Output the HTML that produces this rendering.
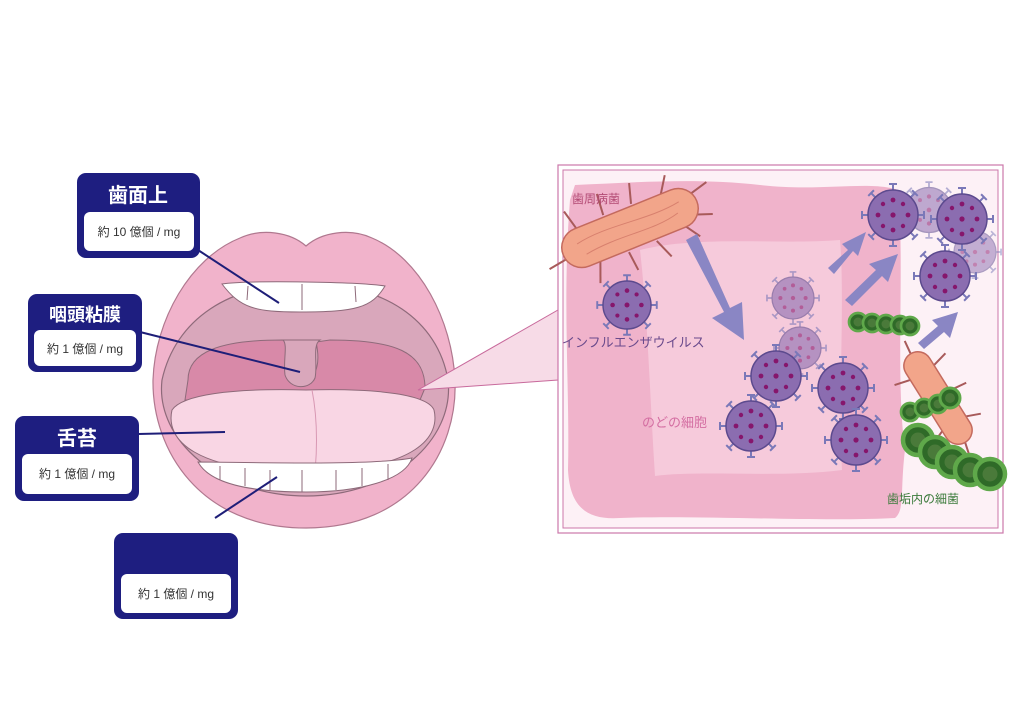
<!DOCTYPE html>
<html><head><meta charset="utf-8"><style>
html,body{margin:0;padding:0;background:#fff}
svg{display:block}
text{font-family:"Liberation Sans","Noto Sans CJK JP",sans-serif}
</style></head><body>
<svg width="1024" height="724" viewBox="0 0 1024 724" xmlns="http://www.w3.org/2000/svg">
<defs>
<g id="v">
 <g stroke="#7a78b8" stroke-width="2" fill="none">
  <path d="M0-25V-31M-4-31H4"/><path d="M0 25V31M-4 31H4"/><path d="M-25 0H-31M-31-4V4"/><path d="M25 0H31M31-4V4"/>
  <g transform="rotate(45)"><path d="M0-25V-31M-4-31H4"/><path d="M0 25V31M-4 31H4"/><path d="M-25 0H-31M-31-4V4"/><path d="M25 0H31M31-4V4"/></g>
 </g>
 <circle r="25" fill="#8b6db0" stroke="#5c4a8e" stroke-width="1.5"/>
 <g fill="#86166c"><circle r="2.6"/><circle cx="0" cy="-15" r="2.4"/><circle cx="0" cy="15" r="2.4"/><circle cx="-15" cy="0" r="2.4"/><circle cx="15" cy="0" r="2.4"/><circle cx="-10" cy="-11" r="2.2"/><circle cx="10" cy="-11" r="2.2"/><circle cx="-10" cy="11" r="2.2"/><circle cx="10" cy="11" r="2.2"/></g>
</g>
<g id="g">
 <circle r="10" fill="#2f6a28" stroke="#5fa84a" stroke-width="3"/>
 <circle r="5" fill="#4a7a3a"/>
</g>
</defs>

<!-- mouth -->
<path d="M306 246 C290 232 262 228 240 238 C190 258 155 320 153 380 C152 450 200 528 306 528 C412 528 458 450 455 380 C452 320 420 258 372 238 C350 228 322 232 306 246Z" fill="#f1b3cb" stroke="#b0788f" stroke-width="1.2"/>
<path d="M306 285 C230 282 175 320 162 380 C155 440 220 496 306 496 C392 496 455 440 448 380 C438 320 382 282 306 285Z" fill="#d9a7bb" stroke="#8e6a7a" stroke-width="1.2"/>
<path d="M188 380 C188 352 220 340 282 340 L295 342 C290 360 292 378 305 378 C318 378 320 360 316 342 L330 340 C395 340 425 352 425 388 L420 400 L185 400Z" fill="#d889a8" stroke="#8e6a7a" stroke-width="1"/>
<path d="M283 340 C288 345 283 360 285 375 C290 390 310 390 315 378 C318 365 312 345 320 340Z" fill="#d9a7bb" stroke="#8e6a7a" stroke-width="1"/>
<path d="M222 284 C240 308 255 312 300 312 C355 312 372 308 385 286 C360 282 250 280 222 284Z" fill="#fff" stroke="#8e6a7a" stroke-width="1"/>
<g stroke="#8e6a7a" fill="none" stroke-width="1"><path d="M248 286 L247 300"/><path d="M302 284 L302 310"/><path d="M355 286 L356 302"/></g>
<path d="M172 410 C182 395 230 388 306 390 C380 388 428 395 434 410 C440 435 420 470 306 472 C195 472 165 440 172 410Z" fill="#f9d6e4" stroke="#8e6a7a" stroke-width="1"/>
<path d="M312 390 C318 420 318 460 312 492" stroke="#d898b3" fill="none"/>
<path d="M198 462 C240 462 370 466 412 458 C405 480 360 492 306 492 C250 492 210 484 198 462Z" fill="#fff" stroke="#8e6a7a" stroke-width="1"/>
<g stroke="#8e6a7a" fill="none" stroke-width="1"><path d="M220 466 V480"/><path d="M245 468 V486"/><path d="M270 470 V490"/><path d="M302 470 V492"/><path d="M336 470 V490"/><path d="M362 468 V486"/><path d="M388 464 V480"/></g>

<!-- pointer -->
<polygon points="418,390 558,310 558,380" fill="#f7dbe7" stroke="#c86a9c" stroke-width="1"/>

<!-- right box -->
<rect x="558" y="165" width="445" height="368" fill="#fff" stroke="#cc77aa" stroke-width="1.2"/>
<rect x="563" y="170" width="435" height="358" fill="#fdf1f6" stroke="#cc77aa" stroke-width="1"/>
<path d="M575 185 C640 182 700 178 760 185 C820 192 870 180 898 190 C905 260 895 380 905 450 C900 490 905 510 895 518 C820 522 700 515 620 518 C590 520 570 510 568 470 C570 390 562 300 570 200Z" fill="#f0b3cb"/>
<path d="M640 250 C700 235 780 245 840 240 C845 300 838 400 842 470 C780 478 700 470 655 476 C650 400 648 320 640 250Z" fill="#f6cadb"/>

<!-- periodontal bacterium -->
<g transform="translate(630,228) rotate(-22)">
 <g stroke="#a85a5a" stroke-width="2"><path d="M-50 -20 L-55 -40"/><path d="M-20 -22 L-18 -44"/><path d="M10 -22 L16 -42"/><path d="M40 -18 L52 -36"/><path d="M65 -8 L88 -14"/><path d="M-40 20 L-48 40"/><path d="M-10 22 L-8 42"/><path d="M20 22 L28 42"/><path d="M50 16 L62 34"/><path d="M-70 5 L-90 8"/><path d="M60 10 L82 18"/></g>
 <rect x="-72" y="-20" width="144" height="40" rx="20" fill="#f2a58a" stroke="#c46a5e" stroke-width="1.5"/>
 <path d="M-55 -5 C-20 -12 20 0 55 -6 M-50 8 C-10 2 20 12 50 4" stroke="#d8806e" fill="none"/>
</g>
<g transform="translate(938,398) rotate(58)">
 <g stroke="#a85a5a" stroke-width="2"><path d="M-30 -14 L-34 -30"/><path d="M0 -15 L2 -32"/><path d="M30 -13 L36 -28"/><path d="M-30 14 L-34 30"/><path d="M0 15 L2 32"/><path d="M30 13 L36 28"/><path d="M50 0 L66 4"/><path d="M-50 0 L-66 -2"/></g>
 <rect x="-52" y="-14" width="104" height="28" rx="14" fill="#f2a58a" stroke="#c46a5e" stroke-width="1.5"/>
</g>

<!-- green chains -->
<g>
 <use href="#g" transform="translate(858,322) scale(0.9)"/><use href="#g" transform="translate(872,323) scale(0.9)"/><use href="#g" transform="translate(886,324) scale(0.9)"/><use href="#g" transform="translate(900,325) scale(0.9)"/><use href="#g" transform="translate(910,326) scale(0.9)"/>
 <use href="#g" transform="translate(910,412) scale(0.9)"/><use href="#g" transform="translate(924,408) scale(0.9)"/><use href="#g" transform="translate(938,404) scale(0.9)"/><use href="#g" transform="translate(950,398) scale(1.0)"/>
 <use href="#g" transform="translate(918,440) scale(1.5)"/><use href="#g" transform="translate(935,452) scale(1.5)"/><use href="#g" transform="translate(952,462) scale(1.5)"/><use href="#g" transform="translate(970,470) scale(1.5)"/><use href="#g" transform="translate(990,474) scale(1.5)"/>
</g>

<!-- arrows -->
<g fill="#8a86c4">
 <path d="M686 240 L724 312 L712 318 L744 340 L742 302 L730 308 L697 234Z"/>
 <path d="M828 268 L848 250 L842 244 L866 232 L858 256 L853 251 L834 274Z"/>
 <path d="M845 300 L876 270 L869 264 L898 254 L888 282 L882 276 L852 306Z"/>
 <path d="M918 343 L938 326 L932 320 L958 312 L950 338 L944 332 L924 349Z"/>
</g>

<!-- viruses -->
<use href="#v" transform="translate(627,305) scale(0.96)"/>
<use href="#v" transform="translate(793,298) scale(0.84)" opacity="0.6"/>
<use href="#v" transform="translate(800,348) scale(0.84)" opacity="0.6"/>
<use href="#v" transform="translate(776,376)"/>
<use href="#v" transform="translate(751,426)"/>
<use href="#v" transform="translate(843,388)"/>
<use href="#v" transform="translate(856,440)"/>
<use href="#v" transform="translate(929,210) scale(0.9)" opacity="0.55"/>
<use href="#v" transform="translate(975,252) scale(0.84)" opacity="0.5"/>
<use href="#v" transform="translate(893,215)"/>
<use href="#v" transform="translate(962,219)"/>
<use href="#v" transform="translate(945,276)"/>

<text x="572" y="203" font-size="12" fill="#b24a74">歯周病菌</text>
<text x="562" y="347" font-size="13" fill="#6a4a8c">インフルエンザウイルス</text>
<text x="642" y="427" font-size="13" fill="#d46ea2">のどの細胞</text>
<text x="887" y="503" font-size="12" fill="#3a7a3a">歯垢内の細菌</text>

<!-- connector lines -->
<g stroke="#1e1e78" stroke-width="2">
 <line x1="198" y1="250" x2="279" y2="303"/>
 <line x1="140" y1="332" x2="300" y2="372"/>
 <line x1="138" y1="434" x2="225" y2="432"/>
 <line x1="215" y1="518" x2="277" y2="477"/>
</g>

<!-- label boxes -->
<g>
 <rect x="77" y="173" width="123" height="85" rx="9" fill="#1e1e80"/>
 <rect x="84" y="212" width="110" height="39" rx="6" fill="#fff"/>
 <text x="138" y="202" font-size="20" font-weight="bold" fill="#fff" text-anchor="middle">歯面上</text>
 <text x="139" y="236" font-size="12" fill="#333" text-anchor="middle">約 10 億個 / mg</text>

 <rect x="28" y="294" width="114" height="78" rx="9" fill="#1e1e80"/>
 <rect x="34" y="330" width="102" height="36" rx="6" fill="#fff"/>
 <text x="85" y="321" font-size="18" font-weight="bold" fill="#fff" text-anchor="middle">咽頭粘膜</text>
 <text x="85" y="353" font-size="12" fill="#333" text-anchor="middle">約 1 億個 / mg</text>

 <rect x="15" y="416" width="124" height="85" rx="9" fill="#1e1e80"/>
 <rect x="22" y="454" width="110" height="40" rx="6" fill="#fff"/>
 <text x="77" y="445" font-size="20" font-weight="bold" fill="#fff" text-anchor="middle">舌苔</text>
 <text x="77" y="478" font-size="12" fill="#333" text-anchor="middle">約 1 億個 / mg</text>

 <rect x="114" y="533" width="124" height="86" rx="9" fill="#1e1e80"/>
 <rect x="121" y="574" width="110" height="39" rx="6" fill="#fff"/>
 <text x="176" y="598" font-size="12" fill="#333" text-anchor="middle">約 1 億個 / mg</text>
</g>
</svg>
</body></html>
